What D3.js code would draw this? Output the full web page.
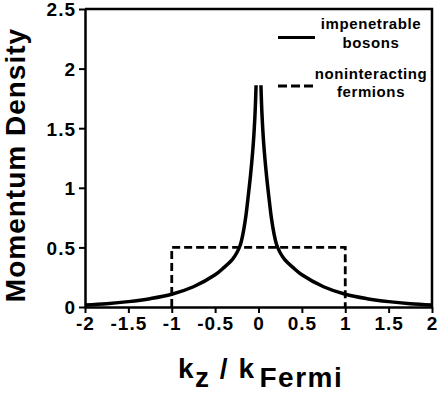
<!DOCTYPE html>
<style>
  html, body { margin:0; background:#fff; }
  text { font-family: "Liberation Sans", Arial, sans-serif; font-weight: bold; fill: #000; }
</style>
<svg width="440" height="393"></svg>
<script src="https://d3js.org/d3.v7.min.js"></script>
<script>

// impenetrable bosons (null = gap at k = 0)
var boseK = [-2, -1.75, -1.5, -1.25, -1, -0.75, -0.5, -0.4, -0.3, -0.25, -0.21, -0.18, -0.15, -0.12, -0.09, -0.06, -0.04, -0.028,
             0,
             0.028, 0.04, 0.06, 0.09, 0.12, 0.15, 0.18, 0.21, 0.25, 0.3, 0.4, 0.5, 0.75, 1, 1.25, 1.5, 1.75, 2];
var boseDensity = [0.017, 0.028, 0.045, 0.07, 0.107, 0.17, 0.27, 0.33, 0.40, 0.455, 0.52, 0.61, 0.74, 0.92, 1.12, 1.37, 1.62, 1.86,
                   null,
                   1.86, 1.62, 1.37, 1.12, 0.92, 0.74, 0.61, 0.52, 0.455, 0.40, 0.33, 0.27, 0.17, 0.107, 0.07, 0.045, 0.028, 0.017];

// noninteracting fermions: step of height 0.5 between -1 and 1
var fermiK = [-1, -1, 1, 1];
var fermiDensity = [0, 0.5, 0.5, 0];

var xTicks = [-2, -1.5, -1, -0.5, 0, 0.5, 1, 1.5, 2];
var yTicks = [0, 0.5, 1, 1.5, 2, 2.5];

var svg = d3.select("svg");

var x = d3.scaleLinear().domain([-2, 2]).range([85, 432]),
    y = d3.scaleLinear().domain([0, 2.5]).range([307, 9]);

var fmt = function(d) { return String(d); };

var xAxis = svg.append("g")
    .attr("transform", "translate(0," + y(0) + ")")
    .call(d3.axisBottom(x).tickValues(xTicks).tickFormat(fmt).tickSize(6).tickPadding(4).tickSizeOuter(0));

var yAxis = svg.append("g")
    .attr("transform", "translate(" + x(-2) + ",0)")
    .call(d3.axisLeft(y).tickValues(yTicks).tickFormat(fmt).tickSize(6).tickPadding(3).tickSizeOuter(0));

svg.selectAll(".domain").attr("stroke-width", 2.5);
svg.selectAll(".tick line").attr("stroke-width", 2);
svg.selectAll(".tick text")
    .attr("fill", "#000")
    .style("font-size", "19px")
    .style("letter-spacing", "1px")
    .style("font-family", "'Liberation Sans', Arial, sans-serif")
    .style("font-weight", "bold");
yAxis.selectAll(".tick text").attr("dy", "0.36em");

// frame top and right
svg.append("path")
    .attr("fill", "none")
    .attr("stroke", "#000")
    .attr("stroke-width", 2.5)
    .attr("d", "M" + x(-2) + "," + y(2.5) + "H" + x(2) + "V" + y(0));

// fermions
svg.append("path")
    .datum(d3.range(fermiK.length))
    .attr("fill", "none")
    .attr("stroke", "#000")
    .attr("stroke-width", 2.8)
    .attr("stroke-dasharray", "8,4")
    .attr("d", d3.line()
      .x(function(i) { return x(fermiK[i]); })
      .y(function(i) { return y(fermiDensity[i]); }));

// bosons
svg.append("path")
    .datum(d3.range(boseK.length))
    .attr("fill", "none")
    .attr("stroke", "#000")
    .attr("stroke-width", 3.5)
    .attr("d", d3.line()
      .defined(function(i) { return boseDensity[i] != null; })
      .curve(d3.curveCatmullRom)
      .x(function(i) { return x(boseK[i]); })
      .y(function(i) { return y(boseDensity[i]); }));

// legend
var legend = svg.append("g");
legend.append("line").attr("x1", 278).attr("x2", 315).attr("y1", 37.5).attr("y2", 37.5)
    .attr("stroke", "#000").attr("stroke-width", 3);
legend.append("line").attr("x1", 278).attr("x2", 315).attr("y1", 86).attr("y2", 86)
    .attr("stroke", "#000").attr("stroke-width", 3).attr("stroke-dasharray", "9,4");
[["impenetrable", 29], ["bosons", 48], ["noninteracting", 79], ["fermions", 97]].forEach(function(t) {
  legend.append("text")
      .attr("x", 371).attr("y", t[1])
      .attr("text-anchor", "middle")
      .style("font-size", "15px")
      .style("letter-spacing", "0.6px")
      .text(t[0]);
});

// axis titles
svg.append("text")
    .attr("transform", "translate(25,165) rotate(-90)")
    .attr("text-anchor", "middle")
    .style("font-size", "28px")
    .style("letter-spacing", "1px")
    .text("Momentum Density");

var xt = svg.append("text")
    .attr("x", 178).attr("y", 378)
    .style("font-size", "28px")
    .style("letter-spacing", "1.5px");
xt.append("tspan").text("k");
xt.append("tspan").attr("dy", 9).text("z");
xt.append("tspan").attr("dy", -9).text(" / k");
xt.append("tspan").attr("dy", 9).attr("dx", 4).text("Fermi");

</script>
